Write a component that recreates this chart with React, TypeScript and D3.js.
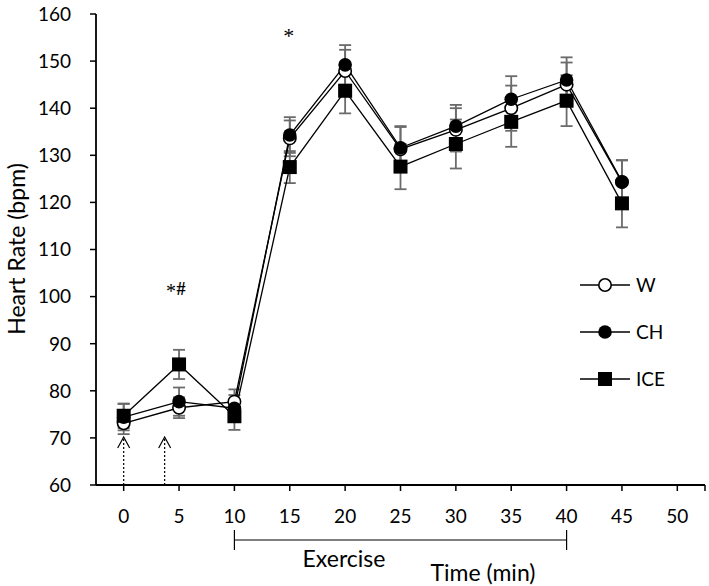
import React from "react";
import * as d3 from "d3";

const times = [0, 5, 10, 15, 20, 25, 30, 35, 40, 45];
const wMean = [73.1, 76.4, 77.7, 133.6, 147.9, 131.3, 135.4, 140.0, 145.0, 124.3];
const wErr = [2.3, 2.2, 2.6, 3.8, 4.5, 4.7, 4.6, 4.8, 4.7, 4.6];
const chMean = [74.4, 77.7, 76.3, 134.3, 149.2, 131.6, 136.2, 141.9, 146.0, 124.4];
const chErr = [2.8, 3.0, 2.8, 3.8, 4.2, 4.6, 4.5, 4.9, 4.8, 4.6];
const iceMean = [74.7, 85.6, 74.6, 127.5, 143.7, 127.6, 132.4, 137.1, 141.6, 119.8];
const iceErr = [2.6, 3.1, 2.9, 3.4, 4.8, 4.8, 5.2, 5.3, 5.4, 5.1];
const yTicks = [60, 70, 80, 90, 100, 110, 120, 130, 140, 150, 160];
const xTicks = [0, 5, 10, 15, 20, 25, 30, 35, 40, 45, 50];
const seriesNames = ["W", "CH", "ICE"];
const arrowTimes = [0, 3.7];
const exerciseRange = [10, 40];

const FONT = "Lato, 'Open Sans', sans-serif";
const SERIF = "'Liberation Serif', 'DejaVu Serif', serif";

export default function App() {
  const W = 709, H = 586;
  const x = d3.scaleLinear().domain([-2.5, 52.5]).range([96, 705]);
  const y = d3.scaleLinear().domain([60, 160]).range([485, 14]);

  const series = [
    { name: seriesNames[0], mean: wMean, err: wErr, marker: "openCircle" },
    { name: seriesNames[1], mean: chMean, err: chErr, marker: "circle" },
    { name: seriesNames[2], mean: iceMean, err: iceErr, marker: "square" },
  ];

  const line = d3.line<number>().x((_, i) => x(times[i])).y((d) => y(d));

  const marker = (type: string, cx: number, cy: number, key: string) => {
    if (type === "square")
      return <rect key={key} x={cx - 7} y={cy - 7} width={14} height={14} fill="#000" />;
    if (type === "circle")
      return <circle key={key} cx={cx} cy={cy} r={6.8} fill="#000" />;
    return <circle key={key} cx={cx} cy={cy} r={6.2} fill="#fff" stroke="#000" strokeWidth={1.6} />;
  };

  const legendY = [285, 332, 379];

  return (
    <svg width={W} height={H} style={{ display: "block", position: "absolute", left: 0, top: 0 }}>
      <rect width={W} height={H} fill="#fff" />
      {/* axes */}
      <line x1={96} x2={96} y1={14} y2={485} stroke="#000" strokeWidth={1.8} />
      <line x1={96} x2={705} y1={485} y2={485} stroke="#000" strokeWidth={1.8} />
      {yTicks.map((t) => (
        <g key={"yt" + t}>
          <line x1={90} x2={96} y1={y(t)} y2={y(t)} stroke="#000" strokeWidth={1.5} />
          <text x={71} y={y(t)} dy="0.36em" textAnchor="end" fontFamily={FONT} fontSize={19} fill="#000">{t}</text>
        </g>
      ))}
      {xTicks.map((t) => (
        <g key={"xt" + t}>
          <line x1={x(t)} x2={x(t)} y1={485} y2={491} stroke="#000" strokeWidth={1.5} />
          <text x={x(t)} y={516} dy="0.36em" textAnchor="middle" fontFamily={FONT} fontSize={19} fill="#000">{t}</text>
        </g>
      ))}
      <line x1={705} x2={705} y1={485} y2={491} stroke="#000" strokeWidth={1.5} />
      <text transform={`translate(17,249) rotate(-90)`} textAnchor="middle" dy="0.36em" fontFamily={FONT} fontSize={23} fill="#000">Heart Rate (bpm)</text>

      {/* arrows */}
      {arrowTimes.map((t, i) => (
        <g key={"arr" + i} stroke="#000" fill="none">
          <line x1={x(t)} x2={x(t)} y1={485} y2={438} strokeWidth={1.2} strokeDasharray="2,2" />
          <polyline points={`${x(t) - 6},${448} ${x(t)},${437} ${x(t) + 6},${448}`} strokeWidth={1.2} />
        </g>
      ))}

      {/* error bars */}
      {series.map((s) =>
        s.mean.map((m, i) => {
          const cx = x(times[i]);
          return (
            <g key={s.name + "e" + i} stroke="#6b6b6b" strokeWidth={1.8}>
              <line x1={cx} x2={cx} y1={y(m + s.err[i])} y2={y(m - s.err[i])} />
              <line x1={cx - 6} x2={cx + 6} y1={y(m + s.err[i])} y2={y(m + s.err[i])} />
              <line x1={cx - 6} x2={cx + 6} y1={y(m - s.err[i])} y2={y(m - s.err[i])} />
            </g>
          );
        })
      )}
      {/* lines */}
      {series.map((s) => (
        <path key={s.name + "l"} d={line(s.mean) || ""} fill="none" stroke="#000" strokeWidth={1.3} />
      ))}
      {/* markers */}
      {series.map((s) => s.mean.map((m, i) => marker(s.marker, x(times[i]), y(m), s.name + "m" + i)))}

      {/* legend */}
      {series.map((s, i) => (
        <g key={s.name + "lg"}>
          <line x1={580} x2={630} y1={legendY[i]} y2={legendY[i]} stroke="#000" strokeWidth={1.3} />
          {marker(s.marker, 605, legendY[i], s.name + "lgm")}
          <text x={636} y={legendY[i]} dy="0.36em" fontFamily={FONT} fontSize={19} fill="#000">{s.name}</text>
        </g>
      ))}

      {/* annotations */}
      <text x={x(15) - 1} y={43} textAnchor="middle" fontFamily={SERIF} fontSize={22} fill="#000">*</text>
      <text x={171} y={298} textAnchor="middle" fontFamily={SERIF} fontSize={20} fill="#000">*</text>
      <text x={181} y={295} textAnchor="middle" fontFamily={SERIF} fontSize={18} fontWeight="bold" fill="#000">#</text>

      {/* exercise bracket */}
      <g stroke="#000" strokeWidth={1.2}>
        <line x1={x(exerciseRange[0])} x2={x(exerciseRange[1])} y1={540} y2={540} />
        <line x1={x(exerciseRange[0])} x2={x(exerciseRange[0])} y1={530} y2={550} />
        <line x1={x(exerciseRange[1])} x2={x(exerciseRange[1])} y1={530} y2={550} />
      </g>
      <text x={344} y={567} textAnchor="middle" fontFamily={FONT} fontSize={23} fill="#000">Exercise</text>
      <text x={483} y={581} textAnchor="middle" fontFamily={FONT} fontSize={23} fill="#000">Time (min)</text>
    </svg>
  );
}
